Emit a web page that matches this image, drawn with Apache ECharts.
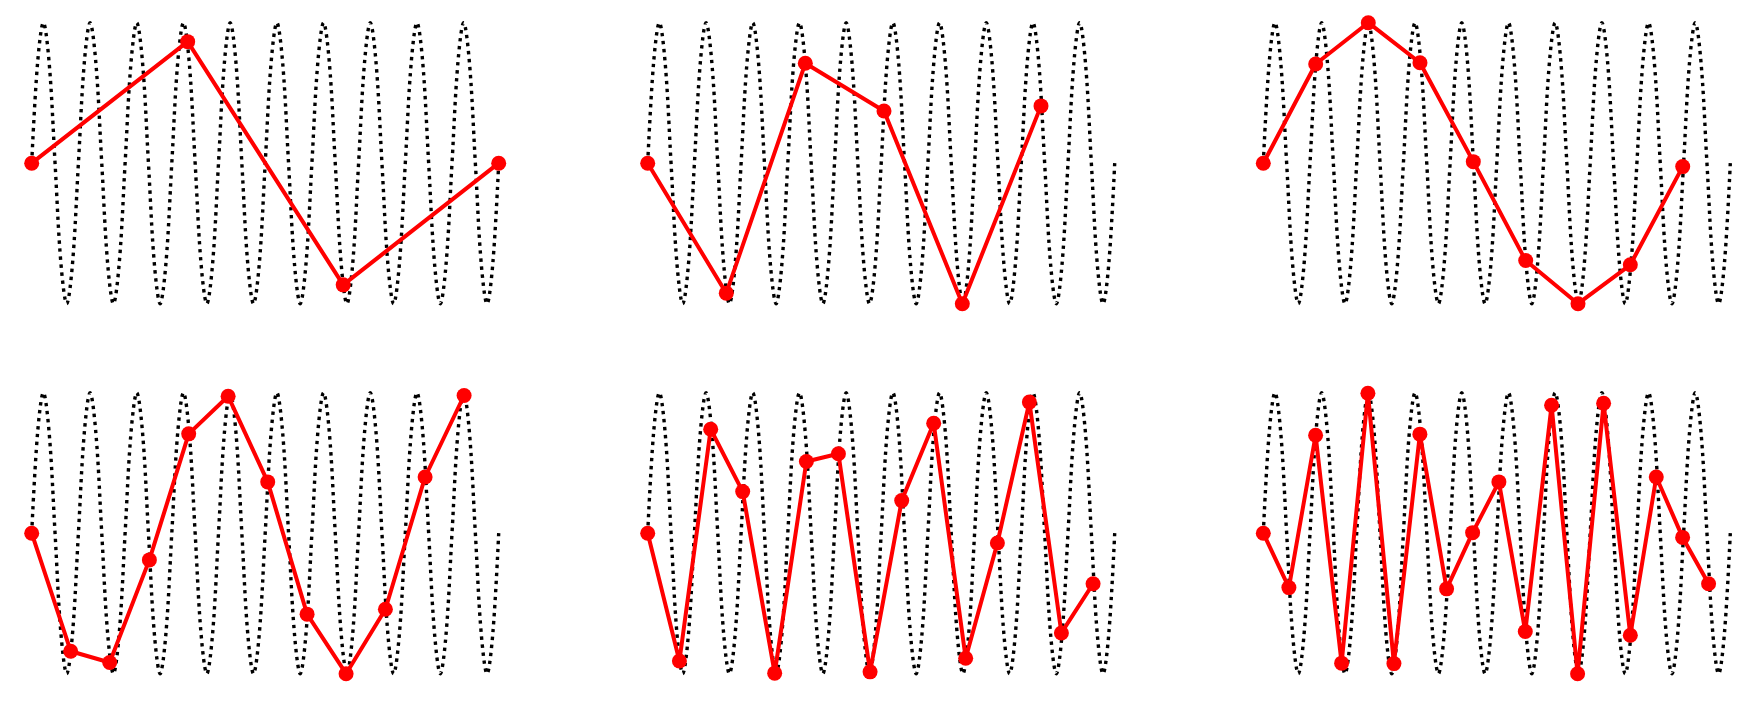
<!DOCTYPE html>
<html>
<head>
<meta charset="utf-8">
<script src="https://cdn.jsdelivr.net/npm/echarts@6/dist/echarts.min.js"></script>
<style>
  html, body { margin: 0; padding: 0; background: #fff; }
  #chart { width: 1756px; height: 702px; }
</style>
</head>
<body>
<div id="chart"></div>
<script>
// dotted wave, read every 1/8 of a cycle, 10 cycles per panel
const waveY = [
  0, 0.71, 1, 0.71, 0, -0.71, -1, -0.71,
  0, 0.71, 1, 0.71, 0, -0.71, -1, -0.71,
  0, 0.71, 1, 0.71, 0, -0.71, -1, -0.71,
  0, 0.71, 1, 0.71, 0, -0.71, -1, -0.71,
  0, 0.71, 1, 0.71, 0, -0.71, -1, -0.71,
  0, 0.71, 1, 0.71, 0, -0.71, -1, -0.71,
  0, 0.71, 1, 0.71, 0, -0.71, -1, -0.71,
  0, 0.71, 1, 0.71, 0, -0.71, -1, -0.71,
  0, 0.71, 1, 0.71, 0, -0.71, -1, -0.71,
  0, 0.71, 1, 0.71, 0, -0.71, -1, -0.71,
  0
]

// sample positions (in wave cycles) per panel, left to right, top to bottom
const sampleX = [
  [0, 3.34, 6.67, 10],
  [0, 1.683, 3.375, 5.06, 6.737, 8.422],
  [0, 1.122, 2.248, 3.355, 4.497, 5.619, 6.739, 7.859, 8.981],
  [0, 0.835, 1.67, 2.52, 3.362, 4.206, 5.054, 5.897, 6.732, 7.574, 8.424, 9.259],
  [0, 0.679, 1.349, 2.034, 2.719, 3.398, 4.084, 4.762, 5.439, 6.124, 6.809, 7.488, 8.173, 8.859, 9.537],
  [0, 0.548, 1.12, 1.677, 2.24, 2.797, 3.353, 3.925, 4.482, 5.045, 5.61, 6.173, 6.73, 7.287, 7.859, 8.415, 8.979, 9.535]
]

// sample values per panel
const sampleY = [
  [0, 0.865, -0.866, 0],
  [0, -0.925, 0.711, 0.372, -1.0, 0.408],
  [0, 0.706, 1.0, 0.715, 0.011, -0.693, -1.0, -0.723, -0.024],
  [0, -0.84, -0.92, -0.19, 0.707, 0.975, 0.365, -0.576, -1.0, -0.541, 0.4, 0.98],
  [0, -0.91, 0.74, 0.296, -0.996, 0.51, 0.565, -0.987, 0.232, 0.783, -0.89, -0.07, 0.933, -0.71, -0.36],
  [0, -0.387, 0.697, -0.925, 0.996, -0.928, 0.705, -0.396, 0.004, 0.365, -0.7, 0.911, -1.0, 0.925, -0.726, 0.4, -0.03, -0.36]
]

const colLeft = [31.7, 647.7, 1263.3]
const rowTop = [22.7, 392.7]
const panelW = 467
const panelH = 281

const chart = echarts.init(document.getElementById('chart'))

const grid = []
const xAxis = []
const yAxis = []
const series = []

sampleX.forEach((xs, i) => {
  grid.push({ left: colLeft[i % 3], top: rowTop[Math.floor(i / 3)], width: panelW, height: panelH })

  // one x axis for the wave (point index), one for the samples (cycles)
  xAxis.push({ type: 'value', gridIndex: i, show: false, min: 0, max: waveY.length - 1 })
  xAxis.push({ type: 'value', gridIndex: i, show: false, min: 0, max: 10 })
  yAxis.push({ type: 'value', gridIndex: i, show: false, min: -1, max: 1 })

  series.push({
    type: 'line',
    xAxisIndex: 2 * i,
    yAxisIndex: i,
    data: waveY.map((y, k) => [k, y]),
    smooth: 0.35,
    showSymbol: false,
    silent: true,
    clip: false,
    lineStyle: { color: '#000', width: 3.4, type: [3.4, 4.6], cap: 'butt' },
    z: 1
  })

  series.push({
    type: 'line',
    xAxisIndex: 2 * i + 1,
    yAxisIndex: i,
    data: xs.map((x, k) => [x, sampleY[i][k]]),
    symbol: 'circle',
    symbolSize: 15,
    showAllSymbol: true,
    clip: false,
    itemStyle: { color: '#ff0000' },
    lineStyle: { color: '#ff0000', width: 4 },
    z: 2
  })
})

chart.setOption({
  animation: false,
  backgroundColor: '#fff',
  grid,
  xAxis,
  yAxis,
  series
})
</script>
</body>
</html>
